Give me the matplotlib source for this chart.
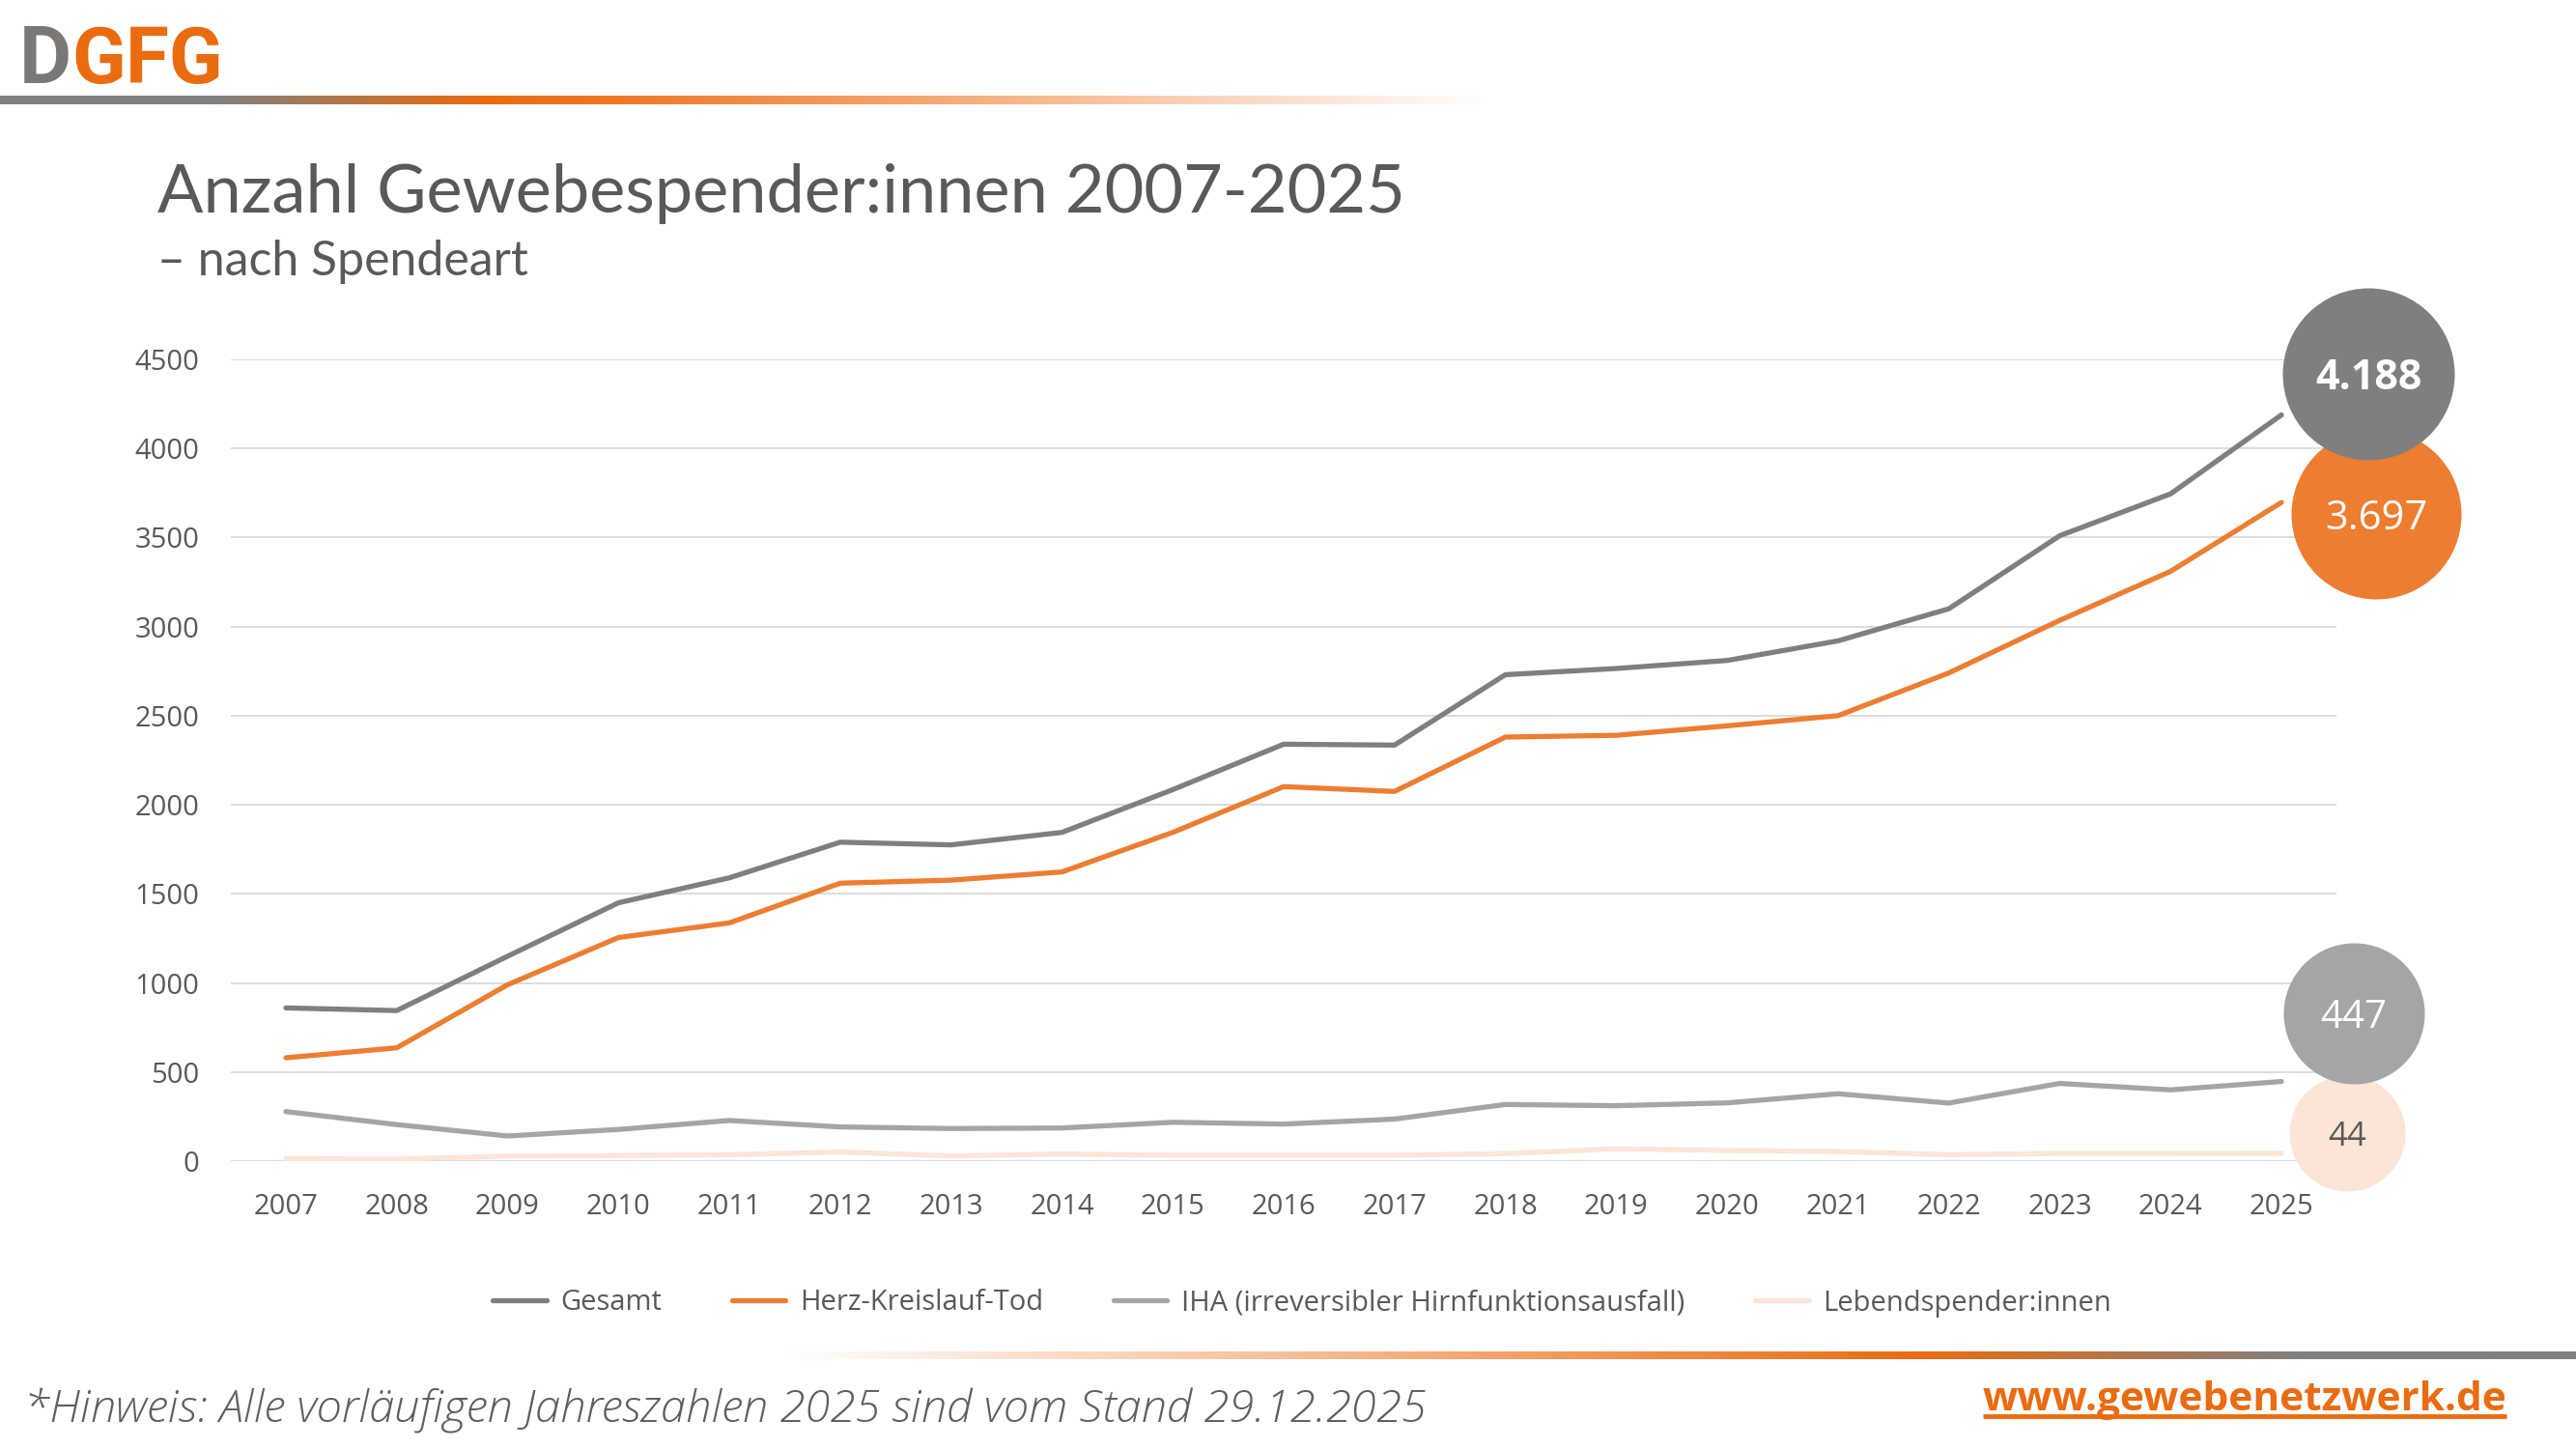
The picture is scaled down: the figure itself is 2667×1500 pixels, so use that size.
import numpy as np
import matplotlib
matplotlib.use("Agg")
import matplotlib.pyplot as plt
import matplotlib.transforms as mtransforms

# data
years = list(range(2007, 2026))
gesamt = [860, 845, 1150, 1450, 1590, 1790, 1775, 1845, 2085, 2340, 2335, 2730, 2765, 2810, 2920, 3100, 3510, 3745, 4188]
herz = [580, 636, 990, 1255, 1337, 1560, 1577, 1623, 1845, 2102, 2075, 2380, 2390, 2443, 2500, 2740, 3035, 3310, 3697]
iha = [278, 205, 141, 178, 228, 192, 183, 186, 218, 208, 236, 318, 311, 327, 378, 326, 436, 400, 447]
lebend = [14, 12, 28, 31, 36, 51, 29, 40, 33, 33, 33, 42, 69, 60, 54, 36, 43, 43, 44]
labels = ["Gesamt", "Herz-Kreislauf-Tod", "IHA (irreversibler Hirnfunktionsausfall)", "Lebendspender:innen"]
end_labels = ["4.188", "3.697", "447", "44"]
yticks = list(range(0, 5000, 500))

c_gesamt = "#7F7F7F"
c_herz = "#ED7D31"
c_iha = "#A5A5A5"
c_lebend = "#FBE5D6"
c_text = "#595959"
c_brand = "#EA6B10"

W, H = 2667, 1500
fig = plt.figure(figsize=(W / 100, H / 100), dpi=100)

# background axes in pixel coords for logo, bars, footer
bg = fig.add_axes([0, 0, 1, 1], zorder=0)
bg.axis("off")


def gradient_bar(xs, cols, y0, y1):
    xx = np.linspace(xs[0], xs[-1], 800)
    rgb = np.array([matplotlib.colors.to_rgb(c) for c in cols])
    img = np.stack([np.interp(xx, xs, rgb[:, i]) for i in range(3)], axis=-1)[None, :, :]
    bg.imshow(img, extent=(xs[0], xs[-1], y1, y0), aspect="auto", interpolation="bilinear")


gradient_bar([0, 215, 500, 650, 1540], ["#808080", "#808080", c_brand, "#EE7A2A", "#FFFFFF"], 99, 108)
gradient_bar([816, 1990, 2385, 2667], ["#FFFFFF", c_brand, "#808080", "#808080"], 1399, 1407)

# logo
bg.text(20, 86, "D", fontsize=60, fontweight="bold", color="#7A7775", family="Roboto", va="baseline")
bg.text(74, 86, "GFG", fontsize=59, fontweight="bold", color=c_brand, family="Roboto", va="baseline")

bg.text(163, 220, "Anzahl Gewebespender:innen 2007-2025", fontsize=50.6, color=c_text,
        family="Lato", va="baseline")
bg.text(163, 285, "– nach Spendeart", fontsize=36, color=c_text, family="Lato", va="baseline")

bg.text(25, 1473, "*Hinweis: Alle vorläufigen Jahreszahlen 2025 sind vom Stand 29.12.2025", fontsize=34,
        color="#5E5E5E", family="Open Sans", fontweight="light", style="italic", va="baseline")
bg.text(2053, 1460, "www.gewebenetzwerk.de", fontsize=30.5, color=c_brand, family="Open Sans",
        fontweight="bold", va="baseline")
bg.plot([2053, 2595], [1466, 1466], color=c_brand, lw=3.5, solid_capstyle="butt")
bg.set_xlim(0, W)
bg.set_ylim(H, 0)

# main chart
ax = fig.add_axes([238.6 / W, 1 - 1202 / H, (2419.4 - 238.6) / W, (1202 - 372) / H], zorder=1)
ax.patch.set_alpha(0)
series = [gesamt, herz, iha, lebend]
colors = [c_gesamt, c_herz, c_iha, c_lebend]
for vals, col, lab in zip(series, colors, labels):
    ax.plot(years, vals, color=col, lw=3.8, label=lab, solid_capstyle="round", solid_joinstyle="round")

ax.set_xlim(2006.5, 2025.5)
ax.set_ylim(0, 4500)
ax.set_yticks(yticks)
ax.set_xticks(years)
ax.set_xticklabels([str(y) for y in years])
ax.grid(axis="y", color="#D9D9D9", lw=1.3)
ax.set_axisbelow(True)
for s in ax.spines.values():
    s.set_visible(False)
ax.tick_params(length=0, labelsize=21, labelcolor=c_text)
ax.tick_params(axis="y", pad=23)
ax.tick_params(axis="x", pad=24)
for t in ax.get_xticklabels() + ax.get_yticklabels():
    t.set_family("Open Sans")

# end-value bubbles, offset in pixels from the last point
offsets = [(90, 43), (98, -12), (75, 71), (68, 21)]
radii = [89, 88, 73, 60]
zs = [6, 5, 6, 5]
txt_cols = ["white", "white", "white", c_text]
txt_sizes = [31, 30, 29, 25]
txt_weights = ["bold", "normal", "normal", "normal"]
for vals, col, lab, (dx, dy), r, z, tc, ts, tw in zip(series, colors, end_labels, offsets, radii, zs,
                                                     txt_cols, txt_sizes, txt_weights):
    tr = mtransforms.offset_copy(ax.transData, fig=fig, x=dx, y=dy, units="dots")
    ax.scatter([years[-1]], [vals[-1]], s=(2 * r * 0.72) ** 2, color=col, transform=tr,
               clip_on=False, zorder=z, linewidths=0)
    ax.text(years[-1], vals[-1], lab, transform=tr, ha="center", va="center_baseline", color=tc,
            fontsize=ts, fontweight=tw, family="Open Sans", zorder=z + 0.5, clip_on=False)

fig.legend(loc="center", bbox_to_anchor=(1348 / W, 1 - 1349 / H), ncol=4, frameon=False,
           prop={"family": "Open Sans", "size": 21}, labelcolor=c_text, handlelength=1.9,
           handletextpad=0.5, columnspacing=2.5)

fig.savefig("out.png", dpi=100)
